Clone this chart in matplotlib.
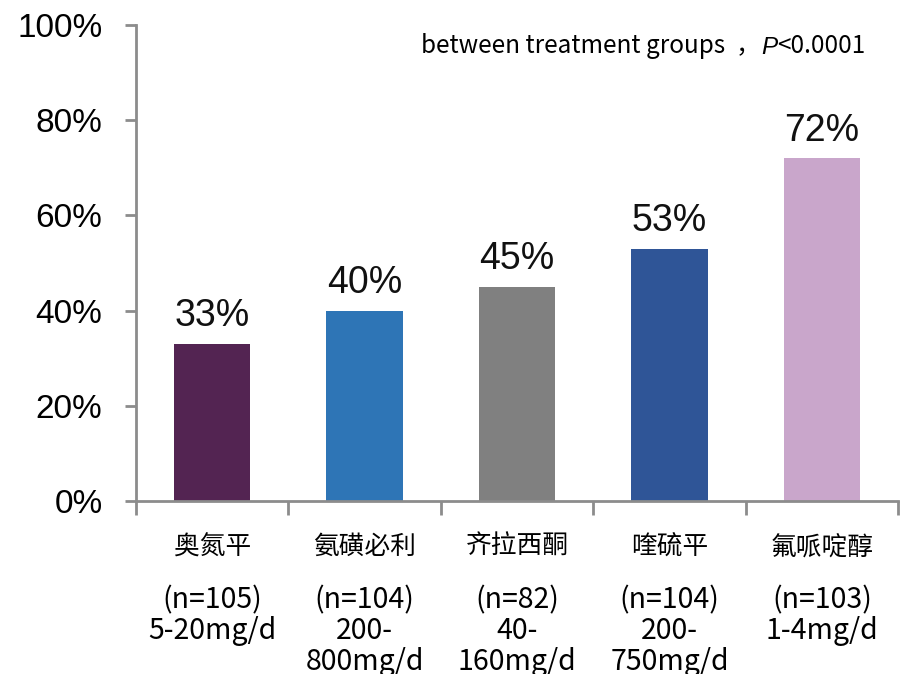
import matplotlib
matplotlib.use("Agg")
import matplotlib.pyplot as plt
import matplotlib.transforms as mtransforms

categories = ["奥氮平", "氨磺必利", "齐拉西酮", "喹硫平", "氟哌啶醇"]
details = ["(n=105)\n5-20mg/d", "(n=104)\n200-\n800mg/d", "(n=82)\n40-\n160mg/d",
           "(n=104)\n200-\n750mg/d", "(n=103)\n1-4mg/d"]
values = [33, 40, 45, 53, 72]
colors = ["#532452", "#2E75B6", "#808080", "#2F5597", "#C9A6CB"]
yticks = [0, 20, 40, 60, 80, 100]
ytick_labels = ["0%", "20%", "40%", "60%", "80%", "100%"]

plt.rcParams['font.family'] = ['Liberation Sans', 'Noto Sans CJK SC', 'DejaVu Sans']
cjk = ['Noto Sans CJK SC', 'DejaVu Sans']

fig = plt.figure(figsize=(9, 6.74), dpi=100)
ax = fig.add_axes([0.151, 0.2567, 0.847, 0.7063])

x = list(range(len(values)))
ax.bar(x, values, width=0.5, color=colors, zorder=2)
ax.set_xlim(-0.5, len(values) - 0.5)
ax.set_ylim(0, 100)

for xi, v in zip(x, values):
    ax.text(xi, v + 2, f"{v}%", ha="center", va="bottom", fontsize=27, color="#111111")

spine_col = "#8c8c8c"
for s in ["top", "right"]:
    ax.spines[s].set_visible(False)
for s in ["left", "bottom"]:
    ax.spines[s].set_color(spine_col)
    ax.spines[s].set_linewidth(2)

ax.set_yticks(yticks)
ax.set_yticklabels(ytick_labels, fontsize=24)
ax.tick_params(axis="y", direction="out", length=8, width=2, color=spine_col, pad=16)
ax.set_xticks([i + 0.5 for i in range(-1, len(values))])
ax.set_xticklabels([])
ax.tick_params(axis="x", direction="out", length=10, width=2, color=spine_col)

trans = mtransforms.blended_transform_factory(ax.transData, ax.transAxes)
for xi, c, d in zip(x, categories, details):
    ax.text(xi, -0.097, c, transform=trans, ha="center", va="center", fontsize=18.5, family=cjk)
    ax.text(xi, -0.177, d, transform=trans, ha="center", va="top", fontsize=20.5,
            family=cjk, linespacing=1.03)

# note text, right-aligned, built from parts so that P is italic
t1 = ax.text(0.957, 0.955, "<0.0001", transform=ax.transAxes, ha="right", va="center",
             fontsize=17.5, family=cjk)
fig.canvas.draw()
bb = t1.get_window_extent()
t2 = ax.annotate("P", xy=(bb.x0, bb.y0), xycoords="figure pixels", ha="right", va="bottom",
                 fontsize=17.5, family=["Liberation Sans", "DejaVu Sans"], style="italic")
fig.canvas.draw()
bb2 = t2.get_window_extent()
ax.annotate("between treatment groups  ，", xy=(bb2.x0 - 1, bb.y0), xycoords="figure pixels",
            ha="right", va="bottom", fontsize=17.5, family=cjk)

fig.savefig("out.png", dpi=100)
